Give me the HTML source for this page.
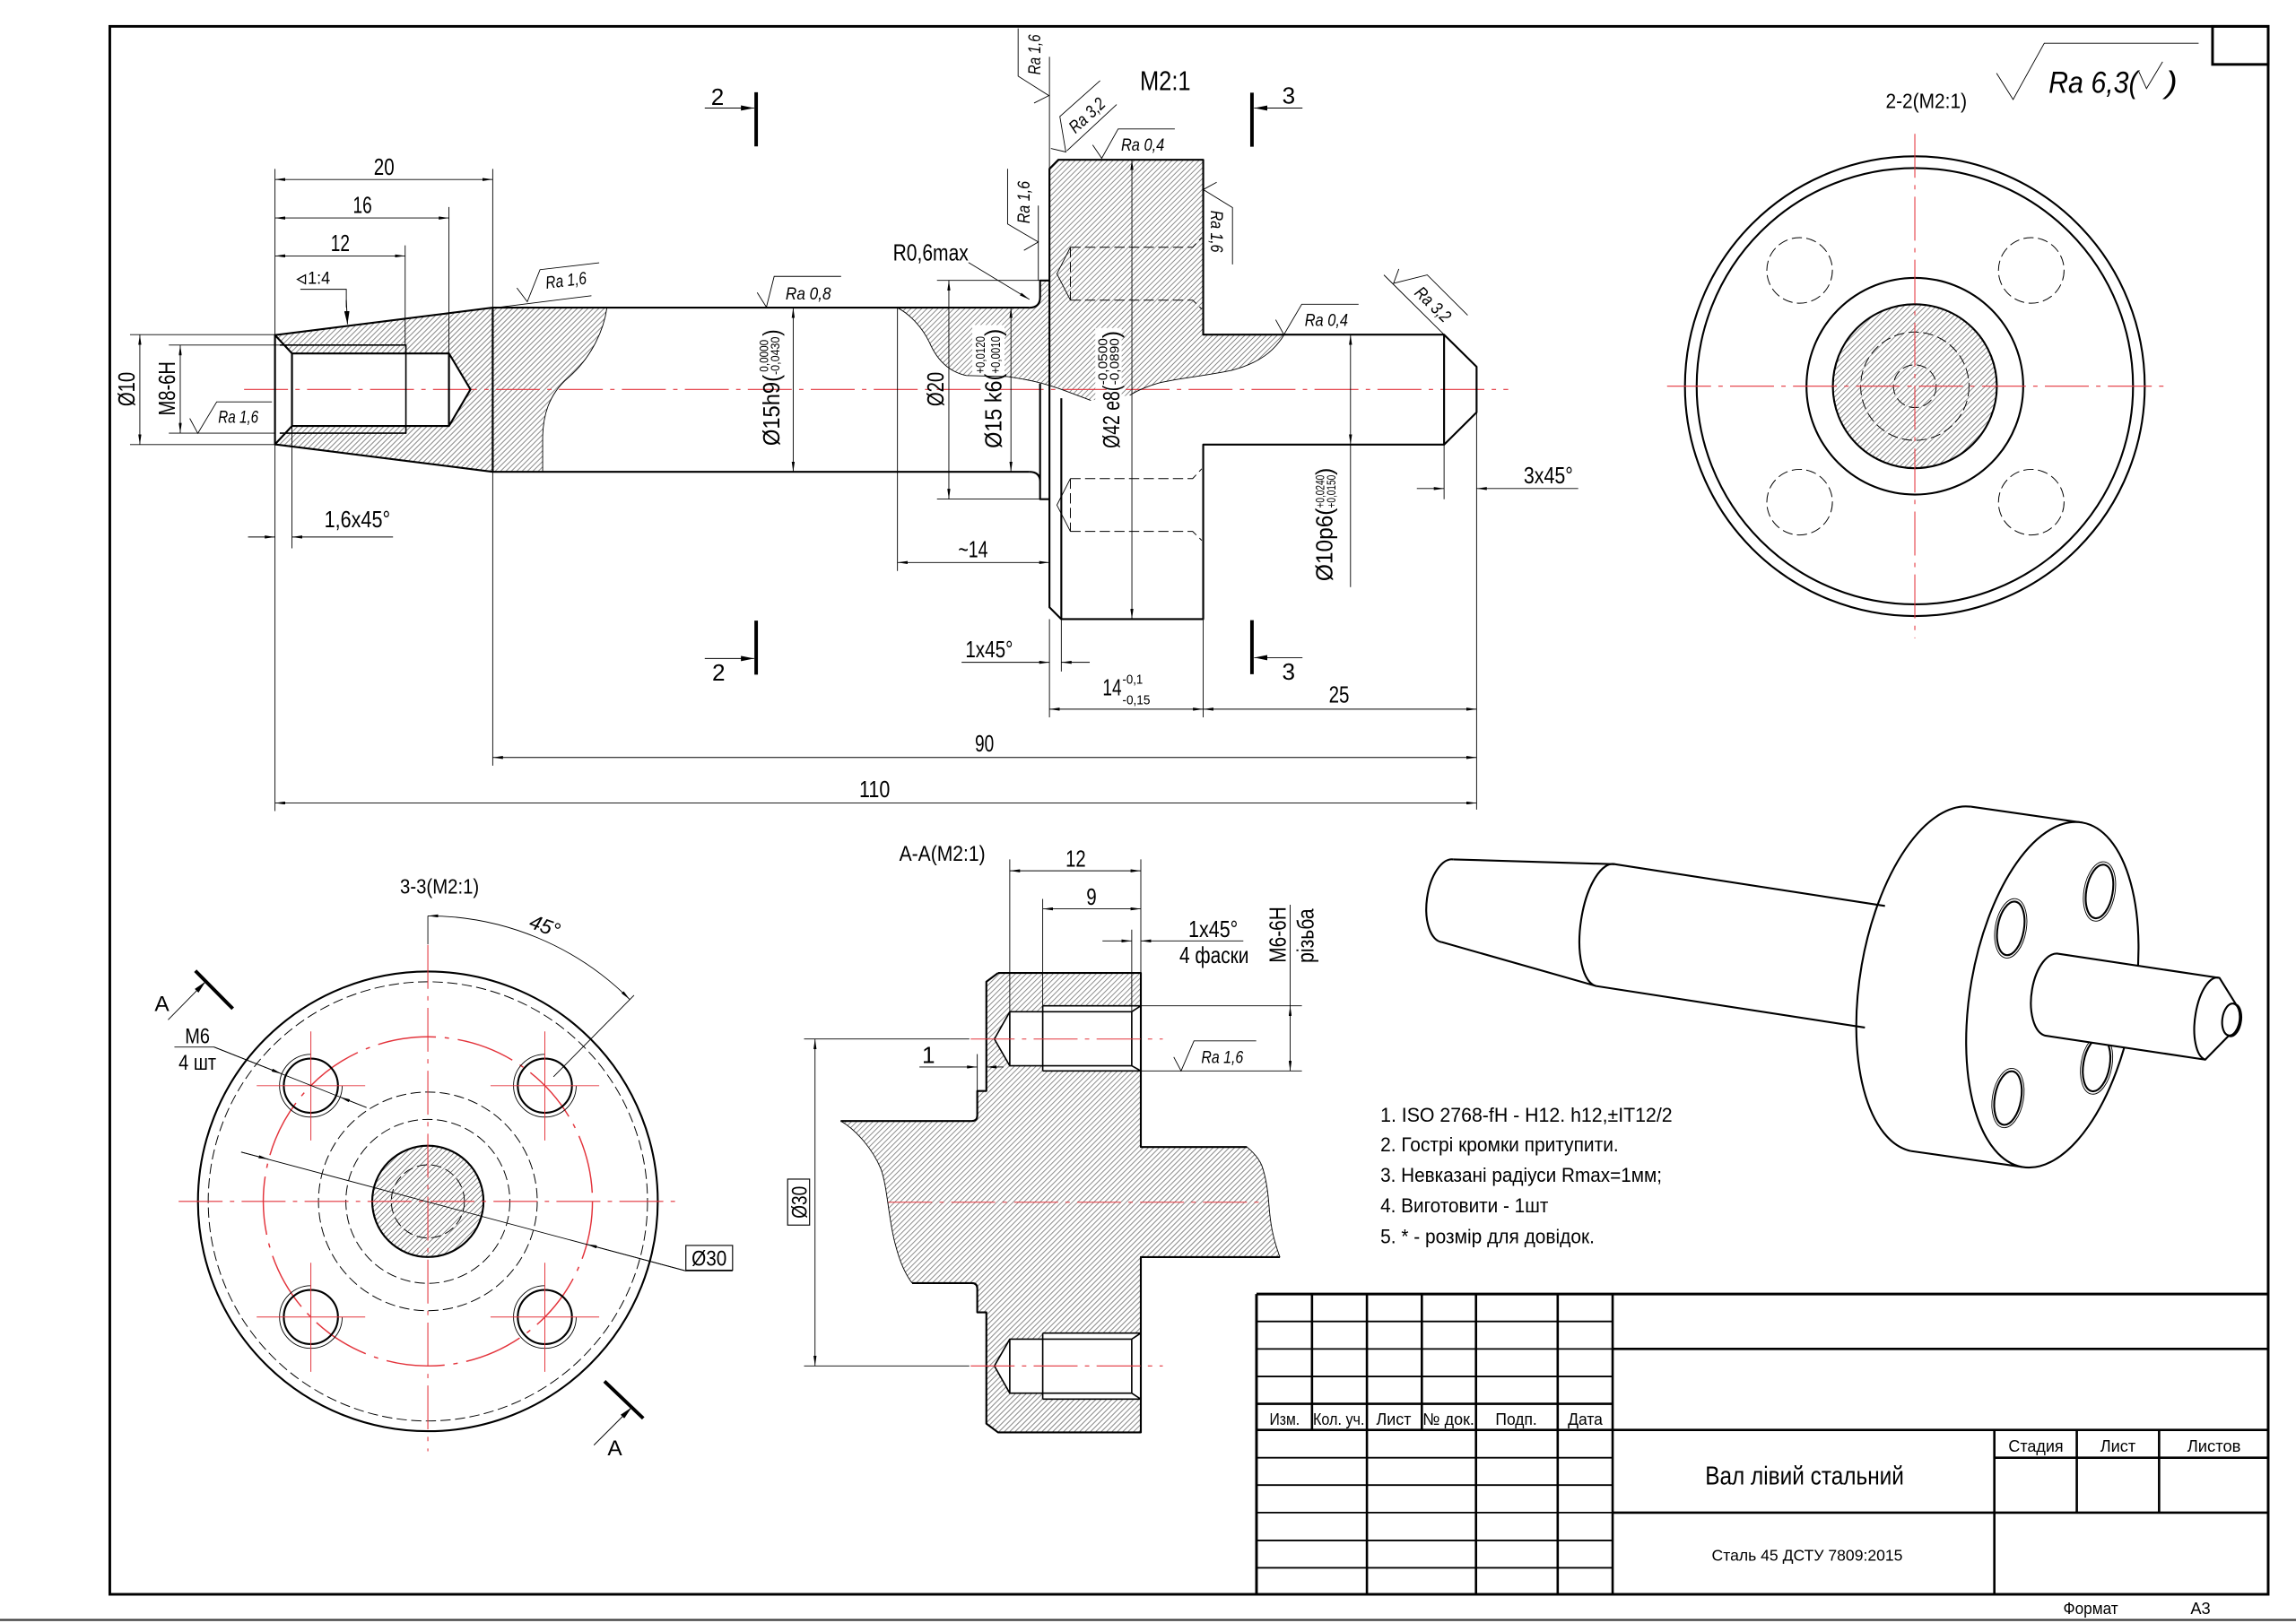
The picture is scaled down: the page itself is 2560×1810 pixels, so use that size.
<!DOCTYPE html>
<html><head><meta charset="utf-8">
<style>
html,body{margin:0;padding:0;background:#fff}
svg{display:block}
.k{stroke:#000;stroke-width:1.3;fill:none;stroke-linejoin:round}
.m{stroke:#000;stroke-width:1;fill:none;stroke-linejoin:round}
.t{stroke:#000;stroke-width:0.55;fill:none}
.r{stroke:#e3343c;stroke-width:0.65;fill:none;stroke-dasharray:30 5 3 5}
.rs{stroke:#e3343c;stroke-width:0.6;fill:none}
.d{stroke:#000;stroke-width:0.6;fill:none;stroke-dasharray:7 3}
.b{stroke:#000;stroke-width:2.4;fill:none}
text{font-family:"Liberation Sans","DejaVu Sans",sans-serif;fill:#000}
.i{font-style:italic}
</style></head><body>
<svg width="2560" height="1810" viewBox="0 0 1568 1108.6" preserveAspectRatio="none" xmlns="http://www.w3.org/2000/svg">
<defs>
<pattern id="h" patternUnits="userSpaceOnUse" width="2.6" height="10" patternTransform="rotate(45)"><line x1="1.3" y1="0" x2="1.3" y2="10" stroke="#555" stroke-width="0.42"/></pattern>
<marker id="a" viewBox="0 0 10 3" refX="10" refY="1.5" markerWidth="7" markerHeight="2.1" orient="auto-start-reverse" markerUnits="userSpaceOnUse"><path d="M0,0L10,1.5L0,3z" fill="#000"/></marker>
<marker id="A" viewBox="0 0 10 4" refX="10" refY="2" markerWidth="9" markerHeight="3.6" orient="auto-start-reverse" markerUnits="userSpaceOnUse"><path d="M0,0L10,2L0,4z" fill="#000"/></marker>
</defs>
<rect width="1568" height="1108.6" fill="#fff"/>

<!-- Frame -->
<rect x="75" y="18" width="1474" height="1071" fill="none" stroke="#000" stroke-width="1.8"/>
<rect x="1511" y="18" width="38" height="26" fill="none" stroke="#000" stroke-width="1.8"/>
<line x1="0" y1="1106.5" x2="1568" y2="1106.5" stroke="#444" stroke-width="1.5"/>

<!-- ============ MAIN VIEW ============ -->
<path fill="url(#h)" d="M187.8,228.9 L336.5,210.1 L414.5,210.1 C412,228 402,246 388,258 C374,270 371,285 370.6,298 L370.6,322.3 L336.5,322.3 L187.8,303.5 Z"/>
<path fill="#fff" d="M187.8,228.9 L199.4,241.4 L306.6,241.4 L321.3,266 L306.6,291 L199.4,291 L187.8,303.5 Z"/>
<path fill="url(#h)" d="M612.9,210.2 L703,210.2 Q710.3,210.2 710.3,203 L710.3,191.6 L716.7,191.6 L716.7,115.3 L722.8,109.1 L821.7,109.1 L821.7,228.6 L877,228.6 C870,240 860,248 841,253 C822,257 800,259 790,262 C780,265 775,268 771.5,270 L745,273.5 C735,270 722,263 712,262 C700,259 692,257.5 687.8,257.2 L660,256.5 C648,254 640,246 634.8,234 C630,224 622,215 612.9,210.2 Z"/>
<rect x="664" y="222" width="22" height="40" fill="#fff"/>
<rect x="748" y="224" width="18" height="52" fill="#fff"/>

<line class="r" x1="166.7" y1="266" x2="1030" y2="266"/>

<path class="k" d="M336.5,210.1 L187.8,228.9 L187.8,303.5 L336.5,322.3"/>
<path class="k" d="M336.5,210.1 L703,210.1 M336.5,322.3 L703,322.3 M336.5,210.1 L336.5,322.3"/>
<path class="k" d="M187.8,228.9 L199.4,241.4 M187.8,303.5 L199.4,291"/>
<path class="m" d="M191,235.7 L277.2,235.7 L277.2,295.9 L191,295.9"/>
<path class="k" d="M199.4,241.4 L306.6,241.4 L321.3,266 L306.6,291 L199.4,291 Z M306.6,241.4 L306.6,291"/>
<path class="t" d="M414.5,210.1 C412,228 402,246 388,258 C374,270 371,285 370.6,298 L370.6,322.3"/>

<path class="k" d="M703,210.2 Q710.3,210.2 710.3,203 L710.3,191.6 L716.7,191.6 L716.7,115.3 L722.8,109.1 L821.7,109.1 L821.7,228.6 L986.2,228.6 L1008.4,250.5 L1008.4,281.7 L986.2,303.7 L821.7,303.7 L821.7,422.9 L724.8,422.9 L716.7,414.8 L716.7,191.6"/>
<path class="k" d="M986.2,228.6 L986.2,303.7"/>
<path class="k" d="M703,322.3 Q710.3,322.3 710.3,329 L710.3,341 L716.7,341 M710.3,262 L710.3,329"/>
<path class="k" d="M724.8,272 L724.8,422.9"/>
<path class="t" d="M612.9,210.2 C622,215 630,224 634.8,234 C640,246 648,254 660,256.5 L687.8,257.2 C700,259 712,261 728.7,267.4 L745,273.5"/>
<path class="t" d="M877,228.6 C870,240 860,248 841,253 C822,257 800,259 790,262 C780,265 775,268 771.5,270"/>
<path class="d" d="M731,168.9 L814.5,168.9 L820.7,162.2 M731,205 L814.5,205 L820.7,211.1 M731,168.9 L731,205"/>
<path class="t" d="M731,168.9 L721.8,187 L731,205"/>
<path class="d" d="M731,326.9 L814.5,326.9 L820.7,320.2 M731,363 L814.5,363 L820.7,369.1 M731,326.9 L731,363"/>
<path class="t" d="M731,326.9 L721.8,345 L731,363"/>

<path class="t" d="M187.8,115.4 L187.8,228.9 M336.5,115.4 L336.5,210.1 M306.6,141.4 L306.6,241.4 M276.7,167.6 L276.7,235.7"/>
<line class="t" x1="187.8" y1="122.6" x2="336.5" y2="122.6" marker-start="url(#a)" marker-end="url(#a)"/>
<line class="t" x1="187.8" y1="148.9" x2="306.6" y2="148.9" marker-start="url(#a)" marker-end="url(#a)"/>
<line class="t" x1="187.8" y1="174.8" x2="276.7" y2="174.8" marker-start="url(#a)" marker-end="url(#a)"/>
<text x="262.3" y="119.5" font-size="16" text-anchor="middle" textLength="14" lengthAdjust="spacingAndGlyphs">20</text>
<text x="247.5" y="145.5" font-size="16" text-anchor="middle" textLength="13" lengthAdjust="spacingAndGlyphs">16</text>
<text x="232.4" y="171.6" font-size="16" text-anchor="middle" textLength="13" lengthAdjust="spacingAndGlyphs">12</text>
<polygon points="203.1,190.8 208.6,187.8 208.6,193.8" fill="none" stroke="#000" stroke-width="0.8"/>
<text x="210.2" y="194" font-size="12" textLength="15.3" lengthAdjust="spacingAndGlyphs">1:4</text>
<path class="t" d="M205.1,197.6 L236.5,197.6 L236.5,210" />
<line x1="236.5" y1="205" x2="237.3" y2="221.5" stroke="#000" stroke-width="0.6" marker-end="url(#A)"/>
<path class="t" d="M88.8,228.6 L187.8,228.6 M88.8,303.7 L187.8,303.7 M115.3,235.7 L191,235.7 M115.3,295.9 L187.8,295.9"/>
<line class="t" x1="95.5" y1="228.6" x2="95.5" y2="303.7" marker-start="url(#a)" marker-end="url(#a)"/>
<line class="t" x1="123.1" y1="235.7" x2="123.1" y2="295.9" marker-start="url(#a)" marker-end="url(#a)"/>
<text transform="translate(92,265.8) rotate(-90)" font-size="16" text-anchor="middle" textLength="23.5" lengthAdjust="spacingAndGlyphs">Ø10</text>
<text transform="translate(119.4,265.4) rotate(-90)" font-size="16" text-anchor="middle" textLength="37" lengthAdjust="spacingAndGlyphs">M8-6H</text>
<path class="t" d="M129.6,285.8 L135.1,296 L148,274.5 L185.7,274.5"/>
<text class="i" x="149" y="288.8" font-size="12" textLength="27.5" lengthAdjust="spacingAndGlyphs">Ra 1,6</text>
<path class="t" d="M199.4,291 L199.4,374.5"/>
<line class="t" x1="169.4" y1="366.8" x2="187.8" y2="366.8" marker-end="url(#a)"/>
<line class="t" x1="268.4" y1="366.8" x2="199.4" y2="366.8" marker-end="url(#a)"/>
<text x="221.5" y="360.2" font-size="16" textLength="45" lengthAdjust="spacingAndGlyphs">1,6x45°</text>
<path class="t" d="M353,196.7 L360.1,206.1 L368.8,184.2 L409.2,179.5 M339,210.1 L403.9,202"/>
<text class="i" transform="translate(387,195.5) rotate(-7)" font-size="12" text-anchor="middle" textLength="28" lengthAdjust="spacingAndGlyphs">Ra 1,6</text>
<path class="t" d="M517.1,199.8 L523.4,209.8 L528.7,188.8 L574.4,188.8"/>
<text class="i" x="536.5" y="204.5" font-size="12" textLength="31" lengthAdjust="spacingAndGlyphs">Ra 0,8</text>
<line class="t" x1="541.7" y1="210.1" x2="541.7" y2="322.3" marker-start="url(#a)" marker-end="url(#a)"/>
<g transform="translate(525,266) rotate(-90)">
<text x="-38.5" y="7.3" font-size="16" textLength="48.5" lengthAdjust="spacingAndGlyphs">Ø15h9(</text>
<text x="12" y="-0.5" font-size="8.5" textLength="22" lengthAdjust="spacingAndGlyphs">0,0000</text>
<text x="10" y="7.3" font-size="8.5" textLength="26" lengthAdjust="spacingAndGlyphs">-0,0430</text>
<text x="36.5" y="7.3" font-size="16" textLength="4.5" lengthAdjust="spacingAndGlyphs">)</text>
</g>
<path class="b" d="M516.4,63 L516.4,100 M516.4,423.9 L516.4,460.8 M855,63.3 L855,100.2 M855,423.6 L855,460.5"/>
<line class="t" x1="481.3" y1="73.8" x2="515" y2="73.8" marker-end="url(#A)"/>
<line class="t" x1="481.3" y1="449.8" x2="515" y2="449.8" marker-end="url(#A)"/>
<line class="t" x1="889.5" y1="73.8" x2="856.5" y2="73.8" marker-end="url(#A)"/>
<line class="t" x1="889.5" y1="449.2" x2="856.5" y2="449.2" marker-end="url(#A)"/>
<text x="490" y="71.7" font-size="16" text-anchor="middle">2</text>
<text x="490.8" y="464.9" font-size="16" text-anchor="middle">2</text>
<text x="880.1" y="70.7" font-size="16" text-anchor="middle">3</text>
<text x="880" y="464.4" font-size="16" text-anchor="middle">3</text>
<text x="795.8" y="61.5" font-size="18.5" text-anchor="middle" textLength="34.7" lengthAdjust="spacingAndGlyphs">M2:1</text>
<text x="635.6" y="177.8" font-size="16" text-anchor="middle" textLength="51.6" lengthAdjust="spacingAndGlyphs">R0,6max</text>
<line class="t" x1="661.4" y1="179.3" x2="703" y2="204.5" marker-end="url(#a)"/>
<path class="t" d="M695.3,19.4 L695.3,52 L716.3,65.3 L706.2,70.4 M716.7,38.8 L716.7,115.3"/>
<text class="i" transform="translate(710.6,37.3) rotate(-90)" font-size="12" text-anchor="middle" textLength="27.5" lengthAdjust="spacingAndGlyphs">Ra 1,6</text>
<path class="t" d="M717.7,101.4 L727.9,103.8 L723.8,79.6 L751.3,55.1 M728.6,103 L762.6,71.4"/>
<text class="i" transform="translate(745.1,81.7) rotate(-43)" font-size="12" text-anchor="middle" textLength="29" lengthAdjust="spacingAndGlyphs">Ra 3,2</text>
<path class="t" d="M746.2,99 L752.4,108.1 L763.6,88.1 L802.3,88.1"/>
<text class="i" x="765.6" y="103" font-size="12" textLength="29.6" lengthAdjust="spacingAndGlyphs">Ra 0,4</text>
<path class="t" d="M688.1,115.3 L688.1,153 L709.1,165.3 L699.3,171 M709.1,140.4 L709.1,191.6"/>
<text class="i" transform="translate(703,138.2) rotate(-90)" font-size="12" text-anchor="middle" textLength="29" lengthAdjust="spacingAndGlyphs">Ra 1,6</text>
<path class="t" d="M830.9,124.5 L821.7,129.5 L841.7,141.8 L841.7,180.6"/>
<text class="i" transform="translate(826.8,158.1) rotate(90)" font-size="12" text-anchor="middle" textLength="28.6" lengthAdjust="spacingAndGlyphs">Ra 1,6</text>
<line class="t" x1="773" y1="109.1" x2="773" y2="422.9" marker-start="url(#a)" marker-end="url(#a)"/>
<line class="t" x1="690.4" y1="210.2" x2="690.4" y2="322.3" marker-start="url(#a)" marker-end="url(#a)"/>
<path class="t" d="M639.9,191.5 L710.3,191.5 M639.9,340.9 L710.3,340.9"/>
<line class="t" x1="648" y1="191.5" x2="648" y2="340.9" marker-start="url(#a)" marker-end="url(#a)"/>
<text transform="translate(644.5,265.8) rotate(-90)" font-size="16" text-anchor="middle" textLength="23.5" lengthAdjust="spacingAndGlyphs">Ø20</text>
<g transform="translate(675,266) rotate(-90)">
<text x="-40.2" y="8.9" font-size="16" textLength="51" lengthAdjust="spacingAndGlyphs">Ø15 k6(</text>
<text x="10.8" y="-2.5" font-size="9" textLength="25.5" lengthAdjust="spacingAndGlyphs">+0,0120</text>
<text x="10.8" y="8" font-size="9" textLength="25.5" lengthAdjust="spacingAndGlyphs">+0,0010</text>
<text x="36.4" y="8.9" font-size="16" textLength="5" lengthAdjust="spacingAndGlyphs">)</text>
</g>
<g transform="translate(758,266) rotate(-90)">
<text x="-40.2" y="6.4" font-size="16" textLength="43" lengthAdjust="spacingAndGlyphs">Ø42 e8(</text>
<text x="3" y="-2" font-size="9" textLength="32" lengthAdjust="spacingAndGlyphs">-0,0500</text>
<text x="3" y="6" font-size="9" textLength="32" lengthAdjust="spacingAndGlyphs">-0,0890</text>
<text x="35" y="6.4" font-size="16" textLength="5" lengthAdjust="spacingAndGlyphs">)</text>
</g>
<path class="t" d="M871.2,218.4 L876.8,228.6 L889,207.8 L927.8,207.8"/>
<text class="i" x="891" y="222.5" font-size="12" textLength="29.6" lengthAdjust="spacingAndGlyphs">Ra 0,4</text>
<path class="t" d="M986.2,228.6 L945.1,187.8 M955.3,183.7 L951.7,193.5 L974.7,187.8 L1002.3,215.3"/>
<text class="i" transform="translate(975.8,210.8) rotate(44)" font-size="12" text-anchor="middle" textLength="29" lengthAdjust="spacingAndGlyphs">Ra 3,2</text>
<path class="t" d="M612.9,210.2 L612.9,390"/>
<line class="t" x1="612.9" y1="384.2" x2="716.7" y2="384.2" marker-start="url(#a)" marker-end="url(#a)"/>
<text x="664.5" y="380.8" font-size="16" text-anchor="middle" textLength="20.3" lengthAdjust="spacingAndGlyphs">~14</text>
<path class="t" d="M716.7,422.9 L716.7,490 M724.8,422.9 L724.8,458.7 M821.7,422.9 L821.7,490"/>
<line class="t" x1="656.7" y1="452.4" x2="716.7" y2="452.4" marker-end="url(#a)"/>
<line class="t" x1="744.2" y1="452.4" x2="724.8" y2="452.4" marker-end="url(#a)"/>
<text x="675.5" y="449" font-size="16" text-anchor="middle" textLength="32.5" lengthAdjust="spacingAndGlyphs">1x45°</text>
<line class="t" x1="716.7" y1="484.4" x2="821.7" y2="484.4" marker-start="url(#a)" marker-end="url(#a)"/>
<line class="t" x1="821.7" y1="484.4" x2="1008.4" y2="484.4" marker-start="url(#a)" marker-end="url(#a)"/>
<text x="753" y="475" font-size="16" textLength="13" lengthAdjust="spacingAndGlyphs">14</text>
<text x="766.5" y="467" font-size="9" textLength="14" lengthAdjust="spacingAndGlyphs">-0,1</text>
<text x="766.5" y="481" font-size="9" textLength="19" lengthAdjust="spacingAndGlyphs">-0,15</text>
<text x="914.5" y="480" font-size="16" text-anchor="middle" textLength="14" lengthAdjust="spacingAndGlyphs">25</text>
<path class="t" d="M1008.4,281.7 L1008.4,553 M336.5,322.3 L336.5,523 M187.8,303.7 L187.8,554"/>
<line class="t" x1="336.5" y1="517.4" x2="1008.4" y2="517.4" marker-start="url(#a)" marker-end="url(#a)"/>
<line class="t" x1="187.8" y1="548.5" x2="1008.4" y2="548.5" marker-start="url(#a)" marker-end="url(#a)"/>
<text x="672.3" y="513.4" font-size="16" text-anchor="middle" textLength="13" lengthAdjust="spacingAndGlyphs">90</text>
<text x="597.3" y="544.4" font-size="16" text-anchor="middle" textLength="21" lengthAdjust="spacingAndGlyphs">110</text>
<line class="t" x1="922.3" y1="228.6" x2="922.3" y2="303.7" marker-start="url(#a)" marker-end="url(#a)"/>
<line class="t" x1="922.3" y1="303.7" x2="922.3" y2="401"/>
<g transform="translate(906,359) rotate(-90)">
<text x="-38" y="4" font-size="16" textLength="50" lengthAdjust="spacingAndGlyphs">Ø10p6(</text>
<text x="12" y="-1.7" font-size="8.5" textLength="22.5" lengthAdjust="spacingAndGlyphs">+0,0240</text>
<text x="12" y="6" font-size="8.5" textLength="22.5" lengthAdjust="spacingAndGlyphs">+0,0150</text>
<text x="34.5" y="4" font-size="16" textLength="5" lengthAdjust="spacingAndGlyphs">)</text>
</g>
<path class="t" d="M986.2,303.7 L986.2,341"/>
<line class="t" x1="967.6" y1="333.7" x2="986.2" y2="333.7" marker-end="url(#a)"/>
<line class="t" x1="1077.8" y1="333.7" x2="1008.4" y2="333.7" marker-end="url(#a)"/>
<text x="1057.4" y="330" font-size="16" text-anchor="middle" textLength="33.7" lengthAdjust="spacingAndGlyphs">3x45°</text>

<!-- ============ SECTION 2-2 ============ -->
<text x="1315.5" y="73.7" font-size="14.3" text-anchor="middle" textLength="55.5" lengthAdjust="spacingAndGlyphs">2-2(M2:1)</text>
<path class="t" d="M1363.5,50 L1374.8,68 L1396.1,29.5 L1501.5,29.5"/>
<text class="i" x="1399" y="63.3" font-size="21" textLength="61" lengthAdjust="spacingAndGlyphs">Ra 6,3(</text>
<path class="t" d="M1460.8,49.2 L1465.9,60.5 L1476.9,42.2"/>
<text class="i" x="1479" y="63.3" font-size="21" textLength="8" lengthAdjust="spacingAndGlyphs">)</text>
<circle cx="1307.7" cy="263.8" r="56" fill="url(#h)"/>
<circle class="k" cx="1307.7" cy="263.8" r="157"/>
<circle class="k" cx="1307.7" cy="263.8" r="149"/>
<circle class="k" cx="1307.7" cy="263.8" r="74"/>
<circle class="k" cx="1307.7" cy="263.8" r="56"/>
<circle class="d" cx="1307.7" cy="263.8" r="37"/>
<circle class="d" cx="1307.7" cy="263.8" r="14.6"/>
<circle class="d" cx="1229" cy="184.7" r="22.4"/>
<circle class="d" cx="1387.2" cy="184.7" r="22.4"/>
<circle class="d" cx="1229" cy="343" r="22.4"/>
<circle class="d" cx="1387.2" cy="343" r="22.4"/>
<line class="r" x1="1138.5" y1="263.8" x2="1477.8" y2="263.8"/>
<line class="r" x1="1307.7" y1="91.4" x2="1307.7" y2="435.9"/>

<!-- ============ SECTION 3-3 ============ -->
<text x="300.2" y="610.3" font-size="14.3" text-anchor="middle" textLength="54" lengthAdjust="spacingAndGlyphs">3-3(M2:1)</text>
<circle cx="292.2" cy="820.6" r="38" fill="url(#h)"/>
<circle class="k" cx="292.2" cy="820.6" r="157"/>
<circle class="d" cx="292.2" cy="820.6" r="150"/>
<circle cx="292.2" cy="820.6" r="112.4" fill="none" stroke="#e3343c" stroke-width="0.9" stroke-dasharray="40 6 3 6"/>
<circle class="d" cx="292.2" cy="820.6" r="74.7"/>
<circle class="d" cx="292.2" cy="820.6" r="56"/>
<circle class="k" cx="292.2" cy="820.6" r="38"/>
<circle class="d" cx="292.2" cy="820.6" r="25"/>
<line class="r" x1="122" y1="820.6" x2="461.3" y2="820.6"/>
<line class="r" x1="292.2" y1="645.4" x2="292.2" y2="991.3"/>
<g>
<circle class="k" cx="212.3" cy="741.6" r="18.5"/>
<path class="t" d="M233.7,741.6 A21.4,21.4 0 1 1 212.3,720.2"/>
<circle class="k" cx="372.1" cy="741.6" r="18.5"/>
<path class="t" d="M393.5,741.6 A21.4,21.4 0 1 1 372.1,720.2"/>
<circle class="k" cx="212.3" cy="899.6" r="18.5"/>
<path class="t" d="M233.7,899.6 A21.4,21.4 0 1 1 212.3,878.2"/>
<circle class="k" cx="372.1" cy="899.6" r="18.5"/>
<path class="t" d="M393.5,899.6 A21.4,21.4 0 1 1 372.1,878.2"/>
</g>
<path class="rs" d="M175.3,741.6 L249.4,741.6 M212.3,704.5 L212.3,779 M335,741.6 L409.2,741.6 M372.1,704.5 L372.1,779 M175.3,899.6 L249.4,899.6 M212.3,862.5 L212.3,937 M335,899.6 L409.2,899.6 M372.1,862.5 L372.1,937"/>
<path class="t" d="M292.2,625.6 L292.2,645"/>
<path class="t" d="M292.2,625.6 A195,195 0 0 1 430.1,682.7" marker-start="url(#a)" marker-end="url(#a)"/>
<path class="t" d="M378,735.5 L433,679.8"/>
<text class="i" transform="translate(370.5,637) rotate(20)" font-size="14" text-anchor="middle" textLength="21" lengthAdjust="spacingAndGlyphs">45°</text>
<path class="b" d="M133.4,663.1 L159,689 M412.8,943.5 L439.3,968.8"/>
<line class="t" x1="114.8" y1="696.6" x2="140.5" y2="670.4" marker-end="url(#A)"/>
<line class="t" x1="405.6" y1="987.1" x2="431.4" y2="961.3" marker-end="url(#A)"/>
<text x="110.6" y="690.5" font-size="15" text-anchor="middle">A</text>
<text x="419.9" y="994" font-size="15" text-anchor="middle">A</text>
<text x="134.8" y="712.5" font-size="15" text-anchor="middle" textLength="17" lengthAdjust="spacingAndGlyphs">M6</text>
<text x="134.8" y="730.8" font-size="15" text-anchor="middle" textLength="25.6" lengthAdjust="spacingAndGlyphs">4 шт</text>
<path class="t" d="M119.1,715.2 L146.2,715.2 L250.3,756.5"/>
<line class="t" x1="146.2" y1="715.2" x2="192.4" y2="733.5" marker-end="url(#a)"/>
<line class="t" x1="250.3" y1="756.5" x2="232.1" y2="749.3" marker-end="url(#a)"/>
<path class="t" d="M164.7,786.9 L468.4,868.1 L500.3,868.1"/>
<line class="t" x1="164.7" y1="786.9" x2="183.5" y2="791.9" marker-end="url(#a)"/>
<line class="t" x1="468.4" y1="868.1" x2="400.7" y2="849.9" marker-end="url(#a)"/>
<rect x="468.4" y="850.7" width="31.9" height="16.9" fill="#fff" stroke="#000" stroke-width="0.7"/>
<text x="484.3" y="864.5" font-size="15" text-anchor="middle" textLength="24" lengthAdjust="spacingAndGlyphs">Ø30</text>

<!-- ============ SECTION A-A ============ -->
<text x="643.5" y="588" font-size="15" text-anchor="middle" textLength="58.8" lengthAdjust="spacingAndGlyphs">A-A(M2:1)</text>
<path fill="url(#h)" d="M681.6,664.6 L779.1,664.6 L779.1,783.5 L851.6,783.5 C857,788 860,792 861.6,795.8 C865,805 866,815 866.6,823.1 C867.5,835 869,845 874.1,858.7 L779.1,858.7 L779.1,978.4 L681.6,978.4 L673.6,972.4 L673.6,896.4 L667.4,896.4 L667.4,880 Q667.4,876.4 663.6,876.4 L622.9,876.4 C618,870 614,860 611.6,850.5 C607,835 606,810 601.6,798.5 C596,785 585,772 574.1,765.7 L663.6,765.7 Q667.4,765.7 667.4,762 L667.4,745.2 L673.6,745.2 L673.6,670.6 Z"/>
<path fill="#fff" d="M679.1,709.7 L689.6,691.1 L712.1,691.1 L712.1,687 L779.1,687 L779.1,731.5 L712.1,731.5 L712.1,728 L689.6,728 Z"/>
<path fill="#fff" d="M679.1,933 L689.6,914.7 L712.1,914.7 L712.1,910.6 L779.1,910.6 L779.1,955.7 L712.1,955.7 L712.1,951.6 L689.6,951.6 Z"/>
<path class="k" d="M681.6,664.6 L779.1,664.6 L779.1,783.5 L851.6,783.5 M874.1,858.7 L779.1,858.7 L779.1,978.4 L681.6,978.4 L673.6,972.4 L673.6,896.4 L667.4,896.4 L667.4,880 Q667.4,876.4 663.6,876.4 L622.9,876.4 M574.1,765.7 L663.6,765.7 Q667.4,765.7 667.4,762 L667.4,745.2 L673.6,745.2 L673.6,670.6 L681.6,664.6"/>
<path class="t" d="M851.6,783.5 C857,788 860,792 861.6,795.8 C865,805 866,815 866.6,823.1 C867.5,835 869,845 874.1,858.7 M622.9,876.4 C618,870 614,860 611.6,850.5 C607,835 606,810 601.6,798.5 C596,785 585,772 574.1,765.7"/>
<path class="m" d="M689.6,691.1 L772.9,691.1 L779.1,687 M689.6,728 L772.9,728 L779.1,731.5 M689.6,691.1 L679.1,709.7 L689.6,728 Z M712.1,687 L779.1,687 M712.1,731.5 L779.1,731.5 M712.1,687 L712.1,731.5 M772.9,691.1 L772.9,728"/>
<path class="m" d="M689.6,914.7 L772.9,914.7 L779.1,910.6 M689.6,951.6 L772.9,951.6 L779.1,955.7 M689.6,914.7 L679.1,933 L689.6,951.6 Z M712.1,910.6 L779.1,910.6 M712.1,955.7 L779.1,955.7 M712.1,910.6 L712.1,955.7 M772.9,914.7 L772.9,951.6"/>
<line class="r" x1="662.9" y1="709.7" x2="794.1" y2="709.7"/>
<line class="r" x1="606.6" y1="821.2" x2="862.9" y2="821.2"/>
<line class="r" x1="662.9" y1="933" x2="794.1" y2="933"/>
<path class="t" d="M549.1,709.7 L662,709.7 M549.1,933 L662,933"/>
<line class="t" x1="556.6" y1="709.7" x2="556.6" y2="933" marker-start="url(#a)" marker-end="url(#a)"/>
<rect x="537.9" y="805.4" width="15" height="31.4" fill="#fff" stroke="#000" stroke-width="0.7"/>
<text transform="translate(551,821.2) rotate(-90)" font-size="15" text-anchor="middle" textLength="22" lengthAdjust="spacingAndGlyphs">Ø30</text>
<path class="t" d="M689.6,587 L689.6,691.1 M779.1,587 L779.1,664.6 M712.1,614 L712.1,687 M772.9,635 L772.9,691.1"/>
<line class="t" x1="689.6" y1="594.8" x2="779.1" y2="594.8" marker-start="url(#a)" marker-end="url(#a)"/>
<line class="t" x1="712.1" y1="620.8" x2="779.1" y2="620.8" marker-start="url(#a)" marker-end="url(#a)"/>
<text x="734.6" y="592" font-size="16" text-anchor="middle" textLength="13.8" lengthAdjust="spacingAndGlyphs">12</text>
<text x="745.4" y="618" font-size="16" text-anchor="middle" textLength="7" lengthAdjust="spacingAndGlyphs">9</text>
<line class="t" x1="752.9" y1="642.7" x2="772.9" y2="642.7" marker-end="url(#a)"/>
<line class="t" x1="849.1" y1="642.7" x2="779.1" y2="642.7" marker-end="url(#a)"/>
<text x="811.6" y="640" font-size="16" textLength="33.8" lengthAdjust="spacingAndGlyphs">1x45°</text>
<text x="805.4" y="657.8" font-size="16" textLength="47.5" lengthAdjust="spacingAndGlyphs">4 фаски</text>
<text transform="translate(877.9,638.5) rotate(-90)" font-size="16" text-anchor="middle" textLength="38.3" lengthAdjust="spacingAndGlyphs">М6-6Н</text>
<text transform="translate(897,639.2) rotate(-90)" font-size="16" text-anchor="middle" textLength="37" lengthAdjust="spacingAndGlyphs">різьба</text>
<path class="t" d="M779.1,687 L889.1,687 M779.1,731.5 L889.1,731.5 M881.1,618 L881.1,687"/>
<line class="t" x1="881.1" y1="687" x2="881.1" y2="731.5" marker-start="url(#a)" marker-end="url(#a)"/>
<path class="t" d="M801.6,722 L806.6,731.5 L815.4,711 L857.9,711"/>
<text class="i" x="820.4" y="726.1" font-size="12" textLength="28.7" lengthAdjust="spacingAndGlyphs">Ra 1,6</text>
<path class="t" d="M667.4,720 L667.4,745.2"/>
<line class="t" x1="627.9" y1="728.8" x2="667.4" y2="728.8" marker-end="url(#a)"/>
<line class="t" x1="685.4" y1="728.8" x2="673.6" y2="728.8" marker-end="url(#a)"/>
<text x="634.1" y="726" font-size="16" text-anchor="middle">1</text>

<!-- ============ ISOMETRIC ============ -->
<path class="k" d="M992.4,587 A14,28.4 8 0 0 984.6,643.5"/>
<path class="k" d="M992.4,587 L1103,590.3 M984.6,643.5 L1090,673.5"/>
<path class="k" d="M1103,590.3 A17,42 8 0 0 1090,673.5"/>
<path class="k" d="M1103,590.3 L1287.3,618.8 M1090,673.5 L1273.6,701.9"/>
<path class="k" d="M1345.9,551 A56,119.4 9.9 0 0 1304.9,786.2"/>
<path class="k" d="M1345.9,551 L1422.1,561.9 M1304.9,786.2 L1381.1,797.1"/>
<ellipse class="k" cx="1401.6" cy="679.5" rx="56" ry="119.4" transform="rotate(9.9 1401.6 679.5)" style="fill:#fff"/>
<g transform="rotate(9.9 1433.8 608.9)"><ellipse class="k" cx="1433.8" cy="608.9" rx="9" ry="18.5"/><ellipse class="t" cx="1433.8" cy="608.9" rx="10.6" ry="20.5"/></g>
<g transform="rotate(9.9 1373.2 634.1)"><ellipse class="k" cx="1373.2" cy="634.1" rx="9" ry="18.5"/><ellipse class="t" cx="1373.2" cy="634.1" rx="10.6" ry="20.5"/></g>
<g transform="rotate(9.9 1431.8 727.1)"><ellipse class="k" cx="1431.8" cy="727.1" rx="9" ry="18.5"/><ellipse class="t" cx="1431.8" cy="727.1" rx="10.6" ry="20.5"/></g>
<g transform="rotate(9.9 1371.3 750)"><ellipse class="k" cx="1371.3" cy="750" rx="9" ry="18.5"/><ellipse class="t" cx="1371.3" cy="750" rx="10.6" ry="20.5"/></g>
<path class="k" style="fill:#fff" d="M1406.4,651.6 L1515.8,668 L1527,686 A5.9,11 8 0 1 1522,707.5 L1506,723.8 L1396.7,707.4 A14,28 8 0 1 1406.4,651.6 Z"/>
<path class="k" d="M1515.8,668 A11.7,28 8 0 0 1506,723.8"/>
<ellipse class="k" cx="1523.6" cy="696.4" rx="5.9" ry="11" transform="rotate(8 1523.6 696.4)"/>

<!-- ============ NOTES ============ -->
<text x="942.7" y="766.1" font-size="13.5" textLength="199.4" lengthAdjust="spacingAndGlyphs">1. ISO 2768-fH -  H12. h12,±IT12/2</text>
<text x="942.7" y="786.5" font-size="13.5" textLength="162.7" lengthAdjust="spacingAndGlyphs">2. Гострі кромки притупити.</text>
<text x="942.7" y="807.3" font-size="13.5" textLength="192.3" lengthAdjust="spacingAndGlyphs">3. Невказані радіуси Rmax=1мм;</text>
<text x="942.7" y="828.1" font-size="13.5" textLength="114.7" lengthAdjust="spacingAndGlyphs">4. Виготовити - 1шт</text>
<text x="942.7" y="849.1" font-size="13.5" textLength="146.3" lengthAdjust="spacingAndGlyphs">5. * - розмір для довідок.</text>

<!-- ============ TITLE BLOCK ============ -->
<g stroke="#000" fill="none">
<path stroke-width="1.8" d="M858.1,883.9 L1549,883.9 M858.1,883.9 L858.1,1089"/>
<path stroke-width="1.6" d="M896,883.9 L896,976.7 M971,883.9 L971,976.7 M933.5,883.9 L933.5,1089 M1008,883.9 L1008,1089 M1063.8,883.9 L1063.8,1089 M1101.3,883.9 L1101.3,1089"/>
<path stroke-width="1.1" d="M858.1,902.6 L1101.3,902.6 M858.1,921.4 L1101.3,921.4 M858.1,940.2 L1101.3,940.2 M858.1,995.7 L1101.3,995.7 M858.1,1014.4 L1101.3,1014.4 M858.1,1033.2 L1101.3,1033.2 M858.1,1052.2 L1101.3,1052.2 M858.1,1070.9 L1101.3,1070.9"/>
<path stroke-width="1.6" d="M858.1,958.9 L1101.3,958.9 M858.1,976.7 L1549,976.7 M1101.3,921.4 L1549,921.4 M1101.3,1033.2 L1549,1033.2 M1362,976.7 L1362,1089 M1418.3,976.7 L1418.3,1033.2 M1474.5,976.7 L1474.5,1033.2 M1362,995.7 L1549,995.7"/>
</g>
<g font-size="11.5">
<text x="877.3" y="973.2" text-anchor="middle" textLength="20.6" lengthAdjust="spacingAndGlyphs">Изм.</text>
<text x="914.3" y="973.2" text-anchor="middle" textLength="35.2" lengthAdjust="spacingAndGlyphs">Кол. уч.</text>
<text x="951.8" y="973.2" text-anchor="middle" textLength="23.8" lengthAdjust="spacingAndGlyphs">Лист</text>
<text x="989.3" y="973.2" text-anchor="middle" textLength="35.2" lengthAdjust="spacingAndGlyphs">№ док.</text>
<text x="1035.5" y="973.2" text-anchor="middle" textLength="28.4" lengthAdjust="spacingAndGlyphs">Подп.</text>
<text x="1082.6" y="973.2" text-anchor="middle" textLength="23.8" lengthAdjust="spacingAndGlyphs">Дата</text>
<text x="1390.4" y="991.6" text-anchor="middle" textLength="37.5" lengthAdjust="spacingAndGlyphs">Стадия</text>
<text x="1446.4" y="991.6" text-anchor="middle" textLength="24.2" lengthAdjust="spacingAndGlyphs">Лист</text>
<text x="1512" y="991.6" text-anchor="middle" textLength="36.6" lengthAdjust="spacingAndGlyphs">Листов</text>
</g>
<text x="1232.4" y="1014" font-size="17.5" text-anchor="middle" textLength="135.8" lengthAdjust="spacingAndGlyphs">Вал лівий стальний</text>
<text x="1234.2" y="1066" font-size="10.5" text-anchor="middle" textLength="130.4" lengthAdjust="spacingAndGlyphs">Сталь 45 ДСТУ 7809:2015</text>
<text x="1427.8" y="1102.5" font-size="11.5" text-anchor="middle" textLength="37.5" lengthAdjust="spacingAndGlyphs">Формат</text>
<text x="1502.8" y="1102.5" font-size="11.5" text-anchor="middle" textLength="13.7" lengthAdjust="spacingAndGlyphs">А3</text>
</svg>
</body></html>
